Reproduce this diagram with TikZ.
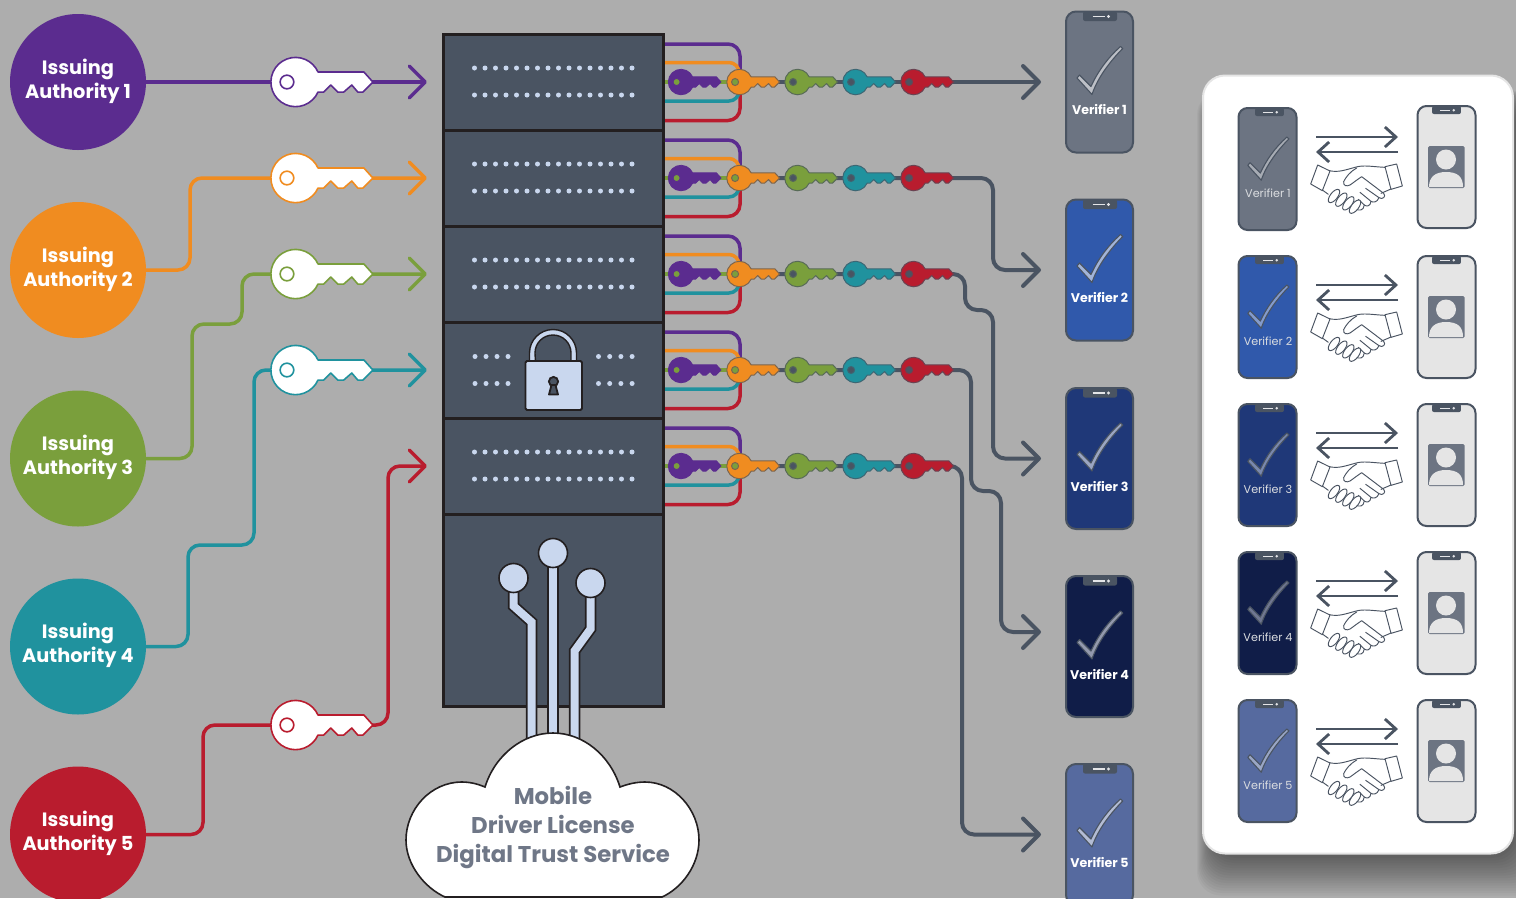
\documentclass[tikz,border=0pt]{standalone}
\usepackage{fontspec}
\setmainfont{Poppins}
\usetikzlibrary{arrows.meta,calc}
\definecolor{bgc}{RGB}{173,173,173}
\definecolor{kpurple}{HTML}{5B2C8F}
\definecolor{korange}{HTML}{F08C20}
\definecolor{kgreen}{HTML}{7A9F3C}
\definecolor{kteal}{HTML}{20929E}
\definecolor{kred}{HTML}{B91C2E}
\definecolor{slate}{HTML}{4A5462}
\definecolor{ink}{HTML}{231F20}
\definecolor{pale}{HTML}{C9D7EE}
\definecolor{ph1}{HTML}{6C7482}
\definecolor{ph2}{HTML}{3059AB}
\definecolor{ph3}{HTML}{1F3878}
\definecolor{ph4}{HTML}{101D48}
\definecolor{ph5}{HTML}{566A9F}
\definecolor{cloudtxt}{HTML}{6F7787}
\definecolor{lightphone}{HTML}{E5E5E5}
\tikzset{
  wire/.style={line width=3.5pt,line join=round},
  arrowwire/.style={wire,rounded corners=12pt,-{Straight Barb[length=16pt,width=32pt,round]}},
  greywire/.style={line width=4pt,slate,rounded corners=12pt,-{Straight Barb[length=16pt,width=32pt,round]}},
  authority/.style={circle,minimum size=136pt,inner sep=0pt},
  authlabel/.style={text=white,font=\bfseries\fontsize{19.3}{24}\selectfont,align=center,inner sep=0pt},
  rackunit/.style={draw=ink,line width=3pt,fill=slate,minimum width=220pt,inner sep=0pt},
  bigphone/.style={draw=slate,line width=2pt,rounded corners=10pt,minimum width=67pt,minimum height=141pt,inner sep=0pt},
  smallphone/.style={draw=slate,line width=2pt,rounded corners=9pt,minimum width=58pt,minimum height=122pt,inner sep=0pt},
  biglabel/.style={text=white,font=\bfseries\fontsize{12.6}{15}\selectfont,inner sep=0pt},
  smalllabel/.style={text=white!80!slate,font=\fontsize{11.2}{14}\selectfont,inner sep=0pt},
  cloudlabel/.style={text=cloudtxt,font=\bfseries\fontsize{22.8}{26}\selectfont,inner sep=0pt,anchor=base},
  pin/.style={line join=miter},
}
% key: x y scale fill edge edgewidth holefill
\newcommand\keyshape[7]{%
  \begin{scope}[shift={(#1,#2)},scale=#3]
    \filldraw[fill=#4,draw=#5,line width=#6pt,line join=round]
      (22.4,-10) -- (68,-10) -- (77,0) -- (67,10) -- (62,10) -- (56,3) -- (48,10) -- (42,10) -- (35,3) -- (28,10) -- (22.4,10)
      arc[start angle=24,end angle=336,radius=24.5] -- cycle;
    \filldraw[fill=#7,draw=#5,line width=#6pt] (-8.5,0) circle[radius=6.8];
  \end{scope}}
% check mark: x y scale fill
\newcommand\checkmk[4]{%
  \begin{scope}[shift={(#1,#2)},scale=#3]
    \filldraw[fill=#4,draw=slate,line width=1.1pt,line join=round]
      (-22.5,-4) -- (-20,-7) -- (-8.5,4.5)
      .. controls (-2,-10) and (8,-24) .. (21,-35.5)
      -- (23.2,-33.5)
      .. controls (10,-20) and (-2,-4) .. (-7.5,12.5) -- cycle;
  \end{scope}}
% notch: x y(top of phone) scale
\newcommand\notch[3]{%
  \begin{scope}[shift={(#1,#2)},scale=#3]
    \fill[slate,rounded corners=2pt] (-17,0) -- (17,0) -- (17,9.5) -- (-17,9.5) -- cycle;
    \draw[white!85!slate,line width=1.1pt] (-7.5,5) -- (4.5,5);
    \fill[white!85!slate] (8.5,5) circle[radius=1.6];
  \end{scope}}
% handshake: y offset
\newcommand\hshake[1]{%
  \begin{scope}[shift={(1305,160+#1)},x=.3333pt,y=-.3333pt,line width=.95pt,draw=slate,line join=round,line cap=round]
    \draw (73,32) .. controls (100,38) and (120,30) .. (150,22) .. controls (175,14) and (200,20) .. (240,22);
    \draw (38,15) -- (75,33) -- (52,92) -- (17,72) -- cycle;
    \draw (240,20) -- (275,12) -- (292,78) -- (258,88) -- cycle;
    \draw (52,90) -- (70,103);
    \draw (258,87) -- (228,100);
    \draw (155,24) .. controls (135,35) and (122,52) .. (116,65) .. controls (114,78) and (125,80) .. (135,75) .. controls (145,68) and (155,60) .. (170,50)
       -- (236,100) .. controls (245,110) and (232,120) .. (222,113) -- (182,85);
    \draw (222,113) .. controls (216,128) and (204,128) .. (198,124) -- (165,97);
    \draw (198,124) .. controls (196,140) and (184,140) .. (178,135) -- (160,118);
    \draw (178,135) .. controls (176,152) and (162,154) .. (152,146);
    \foreach \cx/\cy in {150/140,130/130,109/119,87/108}
      \filldraw[fill=white] (\cx,\cy) ellipse[x radius=11,y radius=24,rotate=-38];
  \end{scope}}
\begin{document}
\begin{tikzpicture}[x=1pt,y=-1pt]
\useasboundingbox (0,0) rectangle (1516,898);
\clip (0,0) rectangle (1516,898);
\fill[bgc] (0,0) rectangle (1516,898);

% panel shadow
\foreach \e in {0,2,...,30}
  \fill[black,opacity=.033,rounded corners=24pt] ({1212-.5*\e},{100-.3*\e}) rectangle ({1516+\e},{858+1.25*\e});

% rack
\foreach \n/\yy in {1/82,2/178,3/274,4/370,5/466}
  \node[rackunit,minimum height=96pt] (r\n) at (553.5,\yy) {};
\node[rackunit,minimum height=192pt] (r6) at (553.5,610) {};

% dots
\foreach \yy in {68,95,164,191,260,287,452,479}
  \foreach \k in {0,...,15}
    \fill[pale] ({474.5+\k*10.5},\yy) circle[radius=2.5];
\foreach \yy in {356.5,383.5}{
  \foreach \k in {0,1,2,3}
    \fill[pale] ({475+\k*11},\yy) circle[radius=2.5];
  \foreach \k in {0,1,2,3}
    \fill[pale] ({598.5+\k*11.2},\yy) circle[radius=2.5];
}

% lock
\filldraw[fill=pale,draw=ink,line width=1.4pt] (529.5,362) -- (529.5,353) arc[start angle=180,end angle=360,radius=23.5] -- (576.5,362) -- (571,362) -- (571,353) arc[start angle=360,end angle=180,radius=18] -- (535.5,362) -- cycle;
\filldraw[fill=pale,draw=ink,line width=1.8pt,rounded corners=1.5pt] (525.5,361) rectangle (582,410);
\filldraw[fill=slate,draw=ink,line width=1.8pt] (553.5,381.5) circle[radius=4.6];
\filldraw[fill=slate,draw=ink,line width=1.8pt,line join=round] (551.5,385) -- (549,394.5) -- (558,394.5) -- (555.5,385) -- cycle;

% circuit pins
\foreach \w/\c in {11.5/ink,8/pale}{
  \draw[\c,line width=\w pt,pin] (513.5,578) -- (513.5,606) -- (531.5,622) -- (531.5,760);
  \draw[\c,line width=\w pt,pin] (553,553) -- (553,760);
  \draw[\c,line width=\w pt,pin] (590.5,583) -- (590.5,629) -- (574.5,651) -- (574.5,760);
}
\foreach \px/\py in {513.5/578,553/553,590.5/583}
  \filldraw[fill=pale,draw=ink,line width=1.6pt] (\px,\py) circle[radius=14.5];

% cloud
\filldraw[fill=white,draw=ink,line width=1.6pt,line join=miter]
  (485,787) .. controls (495,755) and (523,733) .. (553,733)
  .. controls (583,733) and (610,755) .. (620,787)
  .. controls (628,784) and (636,782) .. (645,782)
  .. controls (675,782) and (699,810) .. (699,840)
  .. controls (699,865) and (682,888) .. (662,897)
  -- (445,897)
  .. controls (425,888) and (406,865) .. (406,840)
  .. controls (406,810) and (430,782) .. (462,782)
  .. controls (470,782) and (478,784) .. (485,787) -- cycle;
\node[cloudlabel] (c1) at (553,804) {Mobile};
\node[cloudlabel] (c2) at (553,833) {Driver License};
\node[cloudlabel] (c3) at (553,862) {Digital Trust Service};

% authorities
\node[authority,fill=kpurple] (ia1) at (78,82) {};
\node[authority,fill=korange] (ia2) at (78,270) {};
\node[authority,fill=kgreen]  (ia3) at (78,458.5) {};
\node[authority,fill=kteal]   (ia4) at (78,646.5) {};
\node[authority,fill=kred]    (ia5) at (78,834.5) {};
\foreach \n in {1,...,5}
  \node[authlabel,yshift=1pt] (il\n) at (ia\n) {Issuing\\Authority \n};

\foreach \n/\yy in {1/82,2/178,3/274,4/370,5/466}
  \coordinate (in\n) at (427,\yy);

\draw[arrowwire,kpurple] (ia1.east) -- (in1);
\draw[arrowwire,korange] (ia2.east) -- (190,270) -- (190,178) -- (in2);
\draw[arrowwire,kgreen] (ia3.east) -- (192,458.5) -- (192,324) -- (242,324) -- (242,274) -- (in3);
\draw[arrowwire,kteal] (ia4.east) -- (188,646.5) -- (188,545) -- (254,545) -- (254,370) -- (in4);
\draw[arrowwire,kred] (ia5.east) -- (203,834.5) -- (203,725) -- (388,725) -- (388,466) -- (in5);

\keyshape{295.5}{82}{1.005}{white}{kpurple}{1.6}{white}
\keyshape{295.5}{178}{1.005}{white}{korange}{1.6}{white}
\keyshape{295.5}{274}{1.005}{white}{kgreen}{1.6}{white}
\keyshape{295.5}{370}{1.005}{white}{kteal}{1.6}{white}
\keyshape{295.5}{725}{1.005}{white}{kred}{1.6}{white}

% verifiers big
\foreach \n/\yy/\cc in {1/82/ph1,2/270/ph2,3/458.5/ph3,4/646.5/ph4,5/834.5/ph5}{
  \node[bigphone,fill=\cc] (v\n) at (1099.5,\yy) {};
  \coordinate (ve\n) at (1041,\yy);
  \notch{1100}{\yy-70.5}{1}
  \checkmk{1099.5}{\yy}{1}{white!55!\cc}
  \node[biglabel] (vl\n) at (1099.5,\yy+27.5) {Verifier \n};
}

% rack outputs
\foreach \n/\yy in {1/82,2/178,3/274,4/370,5/466}{
  \draw[wire,kpurple,rounded corners=12pt] (r\n.east |- 0,\yy-38) -- (740,\yy-38) -- (740,\yy);
  \draw[wire,kred,rounded corners=12pt] (r\n.east |- 0,\yy+38.5) -- (740,\yy+38.5) -- (740,\yy);
  \draw[wire,korange,rounded corners=10pt] (r\n.east |- 0,\yy-19.5) -- (739,\yy-19.5) -- (739,\yy);
  \draw[wire,kteal,rounded corners=10pt] (r\n.east |- 0,\yy+19) -- (739,\yy+19) -- (739,\yy);
}
\draw[greywire] (735,82) -- (ve1);
\draw[greywire] (735,178) -- (993,178) -- (993,270) -- (ve2);
\draw[greywire] (735,274) -- (965,274) -- (965,310) -- (993,310) -- (993,458.5) -- (ve3);
\draw[greywire] (735,370) -- (971,370) -- (971,491) -- (1001,491) -- (1001,632) -- (1041,632);
\draw[greywire] (735,466) -- (962,466) -- (962,834.5) -- (ve5);
\foreach \n/\yy in {1/82,2/178,3/274,4/370,5/466}{
  \draw[line width=3.4pt,kgreen] (r\n.east |- 0,\yy) -- (735,\yy);
  \keyshape{681}{\yy}{.52}{kpurple}{kpurple}{.8}{kgreen}
  \keyshape{739.5}{\yy}{.52}{korange}{slate!70!korange}{1}{kgreen}
  \keyshape{797.5}{\yy}{.52}{kgreen}{slate!70!kgreen}{1}{slate}
  \keyshape{855.5}{\yy}{.52}{kteal}{slate!70!kteal}{1}{slate}
  \keyshape{913.5}{\yy}{.52}{kred}{slate!70!kred}{1}{slate}
}

% panel
\node[draw=white!90!black,line width=2pt,fill=white,rounded corners=22pt,minimum width=310pt,minimum height=778pt,inner sep=0pt] (panel) at (1358,464.5) {};

% panel rows
\foreach \i/\n/\cc in {0/1/ph1,1/2/ph2,2/3/ph3,3/4/ph4,4/5/ph5}{
  \pgfmathsetmacro\dy{148*\i}
  \node[smallphone,fill=\cc] (pv\n) at (1267.5,{169+\dy}) {};
  \notch{1269.5}{169+\dy-61}{.85}
  \checkmk{1268}{169+\dy}{.9}{white!40!\cc}
  \node[smalllabel] (pl\n) at (1268,{193+\dy}) {Verifier \n};
  \pgfmathsetmacro\rc{\i==0 ? 167 : 169+\dy}
  \node[smallphone,fill=lightphone] (pu\n) at (1446.5,\rc) {};
  \notch{1446.5}{\rc-61}{.85}
  \filldraw[fill=ph1,rounded corners=1.5pt,draw=none] (1428,\rc-21) rectangle (1464.5,\rc+21);
  \fill[lightphone] (1446,\rc-7.5) circle[radius=10];
  \fill[lightphone] (1429,\rc+20) .. controls (1429,\rc+10) and (1435,\rc+5) .. (1446,\rc+5) .. controls (1458,\rc+5) and (1463,\rc+10) .. (1463,\rc+20) -- cycle;
  \coordinate (al\n) at (1316,{137+\dy});
  \coordinate (ar\n) at (1398,{137+\dy});
  \coordinate (bl\n) at (1316,{152+\dy});
  \coordinate (br\n) at (1398,{152+\dy});
  \draw[line width=2.8pt,slate,-{Straight Barb[length=11pt,width=20pt]}] (al\n) -- (ar\n);
  \draw[line width=2.8pt,slate,-{Straight Barb[length=11pt,width=20pt]}] (br\n) -- (bl\n);
  \hshake{\dy}
}
\end{tikzpicture}
\end{document}
